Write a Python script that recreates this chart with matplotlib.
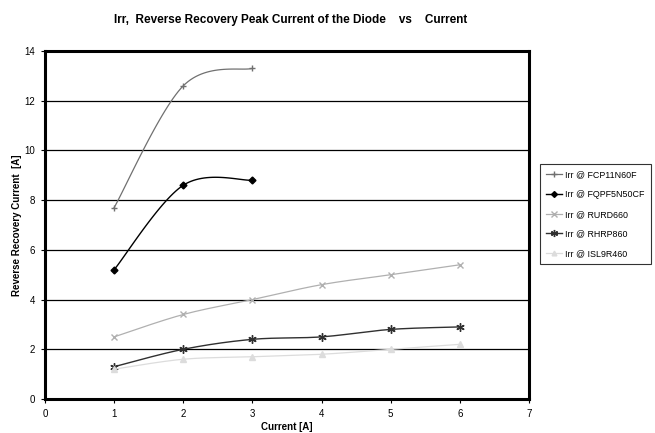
import numpy as np
import matplotlib.pyplot as plt

plt.rcParams['font.family'] = ['Liberation Sans', 'DejaVu Sans']

current = [1, 2, 3, 4, 5, 6]
irr_fcp11n60f = [7.7, 12.6, 13.3]
irr_fqpf5n50cf = [5.2, 8.6, 8.8]
irr_rurd660 = [2.5, 3.4, 4.0, 4.6, 5.0, 5.4]
irr_rhrp860 = [1.3, 2.0, 2.4, 2.5, 2.8, 2.9]
irr_isl9r460 = [1.2, 1.6, 1.7, 1.8, 2.0, 2.2]


def smooth(x, y, n=30):
    # Excel-style smoothed line: cubic Bezier through the points
    x = np.asarray(x, float)
    y = np.asarray(y, float)
    p = np.column_stack([x, y])
    ext = np.vstack([p[0], p, p[-1]])
    out = []
    t = np.linspace(0, 1, n)[:, None]
    for i in range(len(p) - 1):
        p0 = p[i]
        p3 = p[i + 1]
        c1 = p0 + (ext[i + 2] - ext[i]) / 6
        c2 = p3 - (ext[i + 3] - ext[i + 1]) / 6
        seg = ((1 - t) ** 3) * p0 + 3 * ((1 - t) ** 2) * t * c1 + 3 * (1 - t) * t ** 2 * c2 + t ** 3 * p3
        out.append(seg)
    s = np.vstack(out)
    return s[:, 0], s[:, 1]


series = [
    ('Irr @ FCP11N60F', irr_fcp11n60f, '#707070', '+', 5, 0.9),
    ('Irr @ FQPF5N50CF', irr_fqpf5n50cf, '#000000', 'D', 3.5, 1.0),
    ('Irr @ RURD660', irr_rurd660, '#b0b0b0', 'x', 4.5, 0.9),
    ('Irr @ RHRP860', irr_rhrp860, '#303030', (6, 2, 0), 6, 1.0),
    ('Irr @ ISL9R460', irr_isl9r460, '#dcdcdc', '^', 4, 0.9),
]

fig = plt.figure(figsize=(6.55, 4.33), dpi=100)
ax = fig.add_axes([0.0687, 0.0785, 0.7389, 0.8037])

for label, vals, col, mk, ms, lw in series:
    xs = current[:len(vals)]
    sx, sy = smooth(xs, vals)
    ax.plot(sx, sy, color=col, lw=lw)
    ax.plot(xs, vals, linestyle='none', marker=mk, color=col, markersize=ms,
            markeredgewidth=1.0)
    ax.plot([], [], color=col, lw=lw, marker=mk, markersize=ms * 0.85, label=label)

ax.set_xlim(0, 7)
ax.set_ylim(0, 14)
ax.set_xticks(range(0, 8))
ax.set_yticks(range(0, 15, 2))
ax.grid(axis='y', color='black', lw=0.9)
ax.set_axisbelow(True)
for s in ax.spines.values():
    s.set_linewidth(2.2)
ax.tick_params(labelsize=7, length=3, width=0.8, direction='out', pad=4)

ax.set_xlabel('Current [A]', fontsize=7, fontweight='bold', labelpad=2)
ax.set_ylabel('Reverse Recovery Current  [A]', fontsize=7, fontweight='bold', labelpad=2)
fig.text(0.443, 0.953, 'Irr,  Reverse Recovery Peak Current of the Diode    vs    Current',
         ha='center', va='center', fontsize=8.5, fontweight='bold')

leg = fig.legend(loc='center left', bbox_to_anchor=(0.817, 0.505), fontsize=6.4,
                 frameon=True, fancybox=False, edgecolor='black', handlelength=1.8,
                 borderpad=0.7, labelspacing=1.2, handletextpad=0.4)
leg.get_frame().set_linewidth(0.8)

fig.savefig('out.png', dpi=100)
